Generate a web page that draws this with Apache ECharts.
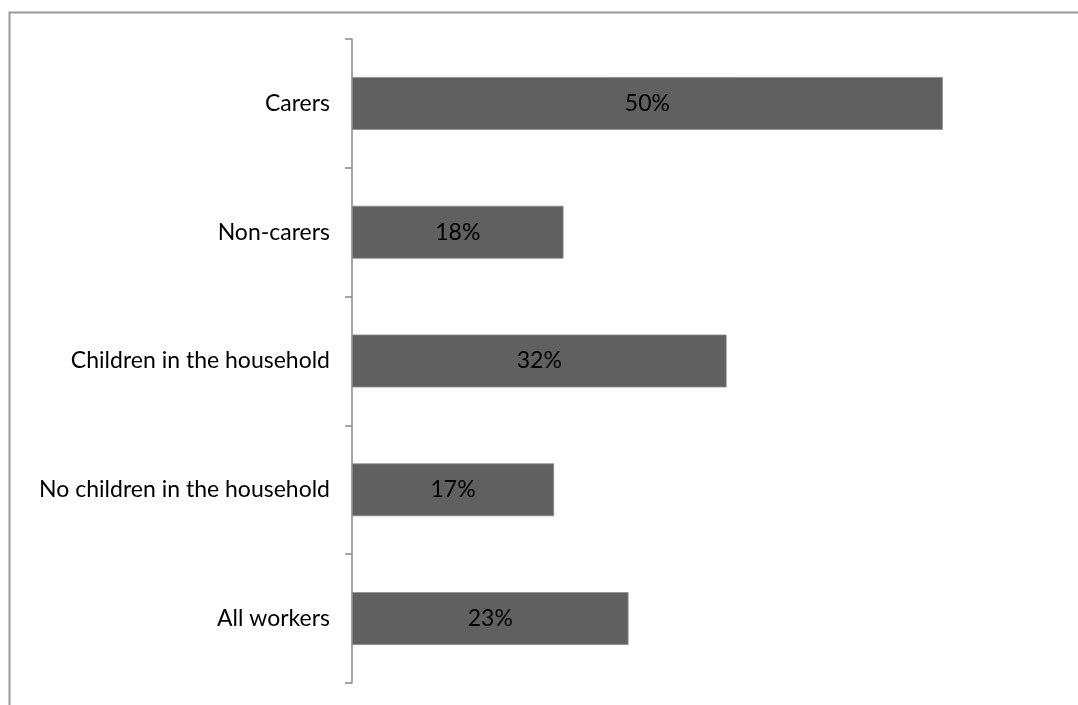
<!DOCTYPE html>
<html>
<head>
<meta charset="utf-8">
<script src="https://cdn.jsdelivr.net/npm/echarts@6/dist/echarts.min.js"></script>
<style>
html,body{margin:0;padding:0;background:#fff;}
#chart{width:1078px;height:705px;}
</style>
</head>
<body>
<div id="chart"></div>
<script>
const categories = ["Carers", "Non-carers", "Children in the household", "No children in the household", "All workers"];
const values = [50, 17.9, 31.7, 17.1, 23.4];

const chart = echarts.init(document.getElementById('chart'), null, {renderer: 'canvas'});
const FONT = 'Lato';
chart.setOption({
  animation: false,
  backgroundColor: '#fff',
  graphic: [{
    type: 'rect',
    shape: {x: 9.5, y: 12.5, width: 1100, height: 720},
    style: {fill: 'none', stroke: '#9a9a9a', lineWidth: 2},
    silent: true
  }],
  grid: {left: 352, right: 17, top: 39, bottom: 22, containLabel: false},
  xAxis: {
    type: 'value', min: 0, max: 60, show: false
  },
  yAxis: {
    type: 'category',
    data: categories,
    inverse: true,
    axisLine: {show: true, lineStyle: {color: '#888', width: 1.5}},
    axisTick: {show: true, length: 7, lineStyle: {color: '#888', width: 1.5}},
    axisLabel: {color: '#000', fontFamily: FONT, fontSize: 23, margin: 22, padding: [4, 0, 0, 0]}
  },
  series: [{
    type: 'bar',
    data: values,
    barWidth: '41%',
    itemStyle: {color: '#606060', borderColor: '#8a8a8a', borderWidth: 0.8},
    label: {
      show: true, position: 'inside', color: '#000', fontFamily: FONT, fontSize: 23,
      padding: [4, 0, 0, 0],
      formatter: p => Math.round(p.value) + '%'
    }
  }]
});
</script>
</body>
</html>
